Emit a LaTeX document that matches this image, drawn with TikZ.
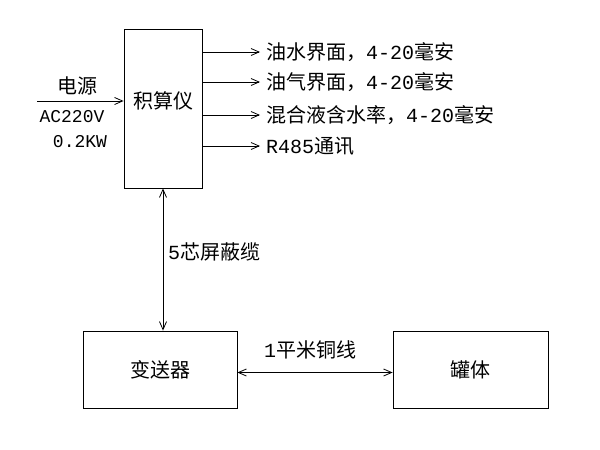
\documentclass[tikz,border=0pt]{standalone}
\usepackage{fontspec}
\setmainfont{Noto Sans CJK SC}
\newfontfamily\lat{Liberation Mono}
\usetikzlibrary{positioning,arrows.meta}

\begin{document}
\begin{tikzpicture}[x=1pt,y=-1pt,
  box/.style={draw,line width=0.8pt,inner sep=0pt},
  txt/.style={font=\fontsize{20}{23}\selectfont,inner sep=0pt},
  wire/.style={line width=0.8pt,-{Straight Barb[length=8pt,width=7pt]}},
  bus/.style={line width=0.8pt,{Straight Barb[length=8pt,width=7pt]}-{Straight Barb[length=8pt,width=7pt]}}]

  \useasboundingbox (0,0) rectangle (600,450);

  \node[box,minimum width=78pt,minimum height=159pt] (jsy) at (163,108.5) {};
  \node[txt] (jsylbl) at (163,101) {积算仪};
  \node[box,txt,minimum width=154pt,minimum height=77pt] (bsq) at (160,369.5) {变送器};
  \node[box,txt,minimum width=155pt,minimum height=77pt] (gt) at (470.5,369.5) {罐体};

  \coordinate (pwr) at (37,101);
  \draw[wire] (pwr) -- (jsy.west |- pwr);
  \node[txt] (dy) at (77,86) {电源};
  \node[txt] (ac) at (72,117) {\lat\fontsize{18}{22}\selectfont AC220V};
  \node[txt] (kw) at (80,142) {\lat\fontsize{18}{22}\selectfont 0.2KW};

  \foreach \y/\t [count=\i] in {52/{油水界面，{\lat 4-20}毫安},82/{油气界面，{\lat 4-20}毫安},
      115/{混合液含水率，{\lat 4-20}毫安},146/{{\lat R485}通讯}} {
    \coordinate (o\i) at (260,\y);
    \draw[wire] (jsy.east |- o\i) -- (o\i);
    \node[txt,anchor=west] (out\i) at (266,\y) {\t};
  }

  \draw[bus] (jsy.south) -- (jsy.south |- bsq.north);
  \node[txt,anchor=west] (cab) at (168,252) {{\lat 5}芯屏蔽缆};
  \draw[bus] ([yshift=-3pt]bsq.east) -- ([yshift=-3pt]gt.west);
  \node[txt] (cu) at (310,350) {{\lat 1}平米铜线};
\end{tikzpicture}
\end{document}
